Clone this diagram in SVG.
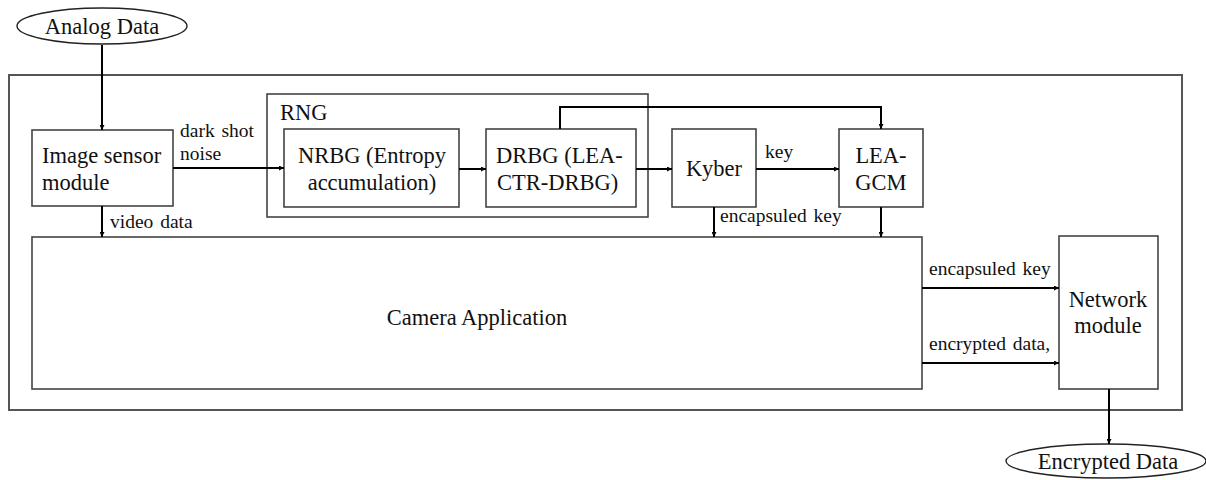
<svg xmlns="http://www.w3.org/2000/svg" width="1206" height="480" viewBox="0 0 1206 480">
  <style>
    .box { fill: #fff; stroke: #444; stroke-width: 1.6; }
    .frame { fill: none; stroke: #555; stroke-width: 2; }
    .oval { fill: #fff; stroke: #222; stroke-width: 1.4; }
    .wire { fill: none; stroke: #000; stroke-width: 2; }
    .lbl { font-size: 22.5px; fill: #111; text-anchor: middle; }
    .lft { text-anchor: start; }
    .edge { font-size: 19.5px; fill: #111; word-spacing: 2px; }
  </style>
  <defs>
    <marker id="arrow" viewBox="0 0 10 10" refX="10" refY="5" markerWidth="5" markerHeight="5" orient="auto" markerUnits="userSpaceOnUse">
      <path d="M0,0 L10,5 L0,10 z" fill="#000"/>
    </marker>
  </defs>
  <rect width="1206" height="480" fill="#fff"/>

  <!-- system frame -->
  <rect class="frame" x="9" y="75" width="1173" height="335"/>

  <g font-family="Liberation Serif, DejaVu Serif, serif">
  <g id="analog-data">
    <ellipse class="oval" cx="102" cy="26" rx="85" ry="18"/>
    <text class="lbl" x="102" y="34">Analog Data</text>
  </g>

  <g id="image-sensor">
    <rect class="box" x="32" y="130" width="141" height="76"/>
    <text class="lbl lft" x="42" y="163">Image sensor</text>
    <text class="lbl lft" x="42" y="190">module</text>
  </g>

  <g id="rng">
    <rect class="box" x="267" y="94" width="381" height="123"/>
    <text class="lbl lft" x="280" y="120">RNG</text>
  </g>

  <g id="nrbg">
    <rect class="box" x="284" y="129" width="175" height="78"/>
    <text class="lbl" x="372" y="163">NRBG (Entropy</text>
    <text class="lbl" x="372" y="190">accumulation)</text>
  </g>

  <g id="drbg">
    <rect class="box" x="486" y="129" width="150" height="78"/>
    <text class="lbl lft" x="496" y="163">DRBG (LEA-</text>
    <text class="lbl lft" x="497" y="190">CTR-DRBG)</text>
  </g>

  <g id="kyber">
    <rect class="box" x="672" y="129" width="84" height="78"/>
    <text class="lbl" x="714" y="176">Kyber</text>
  </g>

  <g id="lea-gcm">
    <rect class="box" x="839" y="129" width="84" height="78"/>
    <text class="lbl" x="881" y="163">LEA-</text>
    <text class="lbl" x="881" y="190">GCM</text>
  </g>

  <g id="camera-app">
    <rect class="box" x="32" y="237" width="890" height="152"/>
    <text class="lbl" x="477" y="325">Camera Application</text>
  </g>

  <g id="network-module">
    <rect class="box" x="1059" y="236" width="99" height="153"/>
    <text class="lbl" x="1108" y="307">Network</text>
    <text class="lbl" x="1108" y="333">module</text>
  </g>

  <g id="encrypted-data">
    <ellipse class="oval" cx="1106" cy="461" rx="100" ry="17"/>
    <text class="lbl" x="1108" y="469">Encrypted Data</text>
  </g>

  <g id="connectors">
    <path class="wire" d="M102,45 V130" marker-end="url(#arrow)"/>
    <path class="wire" d="M173,168 H284" marker-end="url(#arrow)"/>
    <path class="wire" d="M459,169 H486" marker-end="url(#arrow)"/>
    <path class="wire" d="M636,169 H672" marker-end="url(#arrow)"/>
    <path class="wire" d="M756,169 H839" marker-end="url(#arrow)"/>
    <path class="wire" d="M560,129 V107 H881 V129" marker-end="url(#arrow)"/>
    <path class="wire" d="M102,206 V237" marker-end="url(#arrow)"/>
    <path class="wire" d="M714,207 V237" marker-end="url(#arrow)"/>
    <path class="wire" d="M881,207 V237" marker-end="url(#arrow)"/>
    <path class="wire" d="M922,288 H1059" marker-end="url(#arrow)"/>
    <path class="wire" d="M922,363 H1059" marker-end="url(#arrow)"/>
    <path class="wire" d="M1109,389 V444" marker-end="url(#arrow)"/>

    <text class="edge" x="180" y="137">dark shot</text>
    <text class="edge" x="180" y="160">noise</text>
    <text class="edge" x="765" y="158">key</text>
    <text class="edge" x="110" y="228">video data</text>
    <text class="edge" x="720" y="222">encapsuled key</text>
    <text class="edge" x="929" y="275">encapsuled key</text>
    <text class="edge" x="929" y="350">encrypted data,</text>
  </g>
  </g>
</svg>
